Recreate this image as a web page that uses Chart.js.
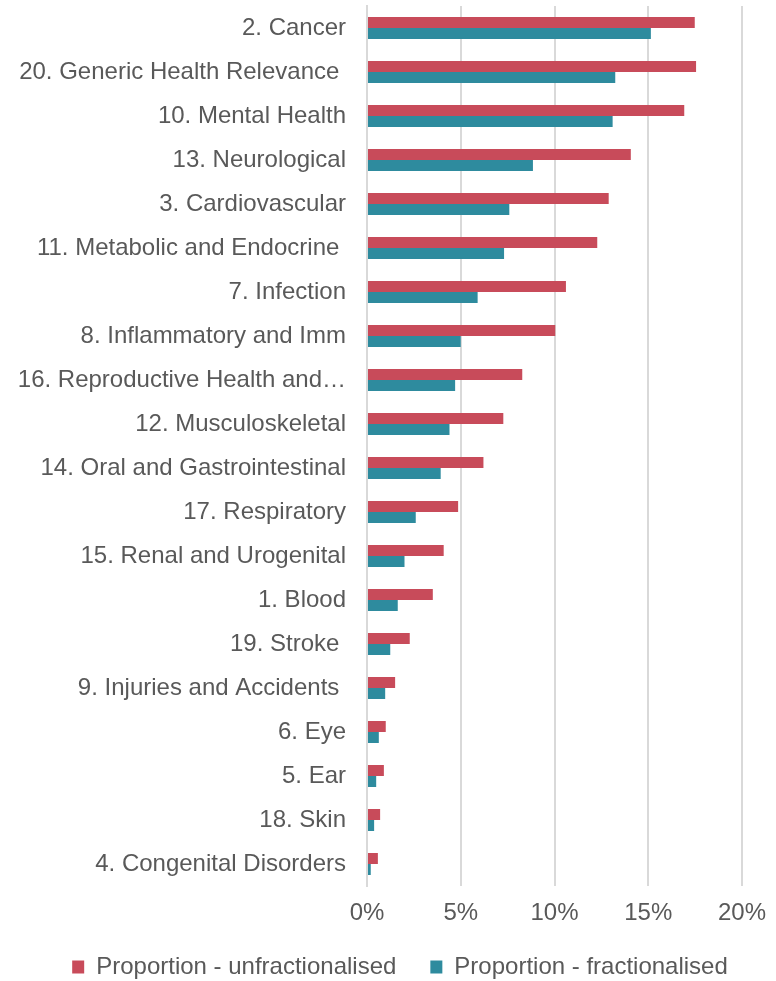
<!DOCTYPE html>
<html>
<head>
<meta charset="utf-8">
<script src="https://cdn.jsdelivr.net/npm/chart.js@4.4.1/dist/chart.umd.min.js"></script>
<style>
  html, body { margin: 0; padding: 0; background: #ffffff; }
  #wrap { width: 776px; height: 981px; position: relative; }
</style>
</head>
<body>
<div id="wrap"><canvas id="c" width="776" height="981"></canvas></div>
<script>
const categories = [
  "2. Cancer",
  "20. Generic Health Relevance ",
  "10. Mental Health",
  "13. Neurological",
  "3. Cardiovascular",
  "11. Metabolic and Endocrine ",
  "7. Infection",
  "8. Inflammatory and Imm",
  "16. Reproductive Health and\u2026",
  "12. Musculoskeletal",
  "14. Oral and Gastrointestinal",
  "17. Respiratory",
  "15. Renal and Urogenital",
  "1. Blood",
  "19. Stroke ",
  "9. Injuries and Accidents ",
  "6. Eye",
  "5. Ear",
  "18. Skin",
  "4. Congenital Disorders"
];
const unfractionalised = [17.48, 17.55, 16.92, 14.07, 12.89, 12.28, 10.61, 10.04, 8.28, 7.27, 6.21, 4.86, 4.09, 3.51, 2.28, 1.50, 1.00, 0.90, 0.70, 0.58];
const fractionalised   = [15.14, 13.24, 13.10, 8.85, 7.59, 7.31, 5.90, 5.00, 4.70, 4.40, 3.93, 2.60, 2.00, 1.64, 1.24, 0.97, 0.63, 0.49, 0.38, 0.20];
const seriesNames = ["Proportion - unfractionalised", "Proportion - fractionalised"];
const xTicks = [0, 5, 10, 15, 20];

const FONT = "'Liberation Sans', Arial, sans-serif";
const TEXT = "#595959";
const GRID = "#d9d9d9";
const LEG_PAD = 34;

const layoutTweak = {
  id: 'layoutTweak',
  afterLayout(chart) {
    const x = chart.scales.x;
    if (x) { x.bottom = x.top + 60; x.height = 60; }
    const lg = chart.legend;
    if (!lg) return;
    lg.top = 967 - LEG_PAD - 12;
    lg.bottom = chart.height;
    lg.left += 29; lg.right += 29;
  }
};

new Chart(document.getElementById('c'), {
  type: 'bar',
  data: {
    labels: categories,
    datasets: [
      { label: seriesNames[0], data: unfractionalised, backgroundColor: '#c84b5a', borderWidth: 0 },
      { label: seriesNames[1], data: fractionalised, backgroundColor: '#2e8b9e', borderWidth: 0 }
    ]
  },
  plugins: [layoutTweak],
  options: {
    indexAxis: 'y',
    responsive: false,
    animation: false,
    devicePixelRatio: 1,
    layout: { padding: { top: 6, right: 34, left: 0, bottom: 2 } },
    datasets: { bar: { categoryPercentage: 0.5, barPercentage: 1.0 } },
    scales: {
      x: {
        min: 0, max: 20,
        afterBuildTicks: (s) => { s.ticks = xTicks.map(v => ({ value: v })); },
        afterFit: (s) => { s.paddingLeft = 0; s.paddingRight = 0; s.height = 25; },
        ticks: {
          callback: (v) => v + '%',
          color: TEXT,
          font: { family: FONT, size: 24 },
          padding: 13,
          maxRotation: 0
        },
        grid: { color: GRID, lineWidth: 2, drawTicks: false },
        border: { display: false }
      },
      y: {
        afterFit: (s) => { s.width = 367; s.paddingTop = 0; s.paddingBottom = 0; },
        ticks: {
          color: TEXT,
          font: { family: FONT, size: 24 },
          padding: 21,
          autoSkip: false
        },
        grid: { display: false, drawTicks: false },
        border: { display: true, color: GRID, width: 2 }
      }
    },
    plugins: {
      legend: {
        position: 'bottom',
        labels: {
          color: TEXT,
          font: { family: FONT, size: 24 },
          boxWidth: 12,
          boxHeight: 13,
          padding: LEG_PAD
        }
      },
      tooltip: { enabled: false }
    }
  }
});
</script>
</body>
</html>
